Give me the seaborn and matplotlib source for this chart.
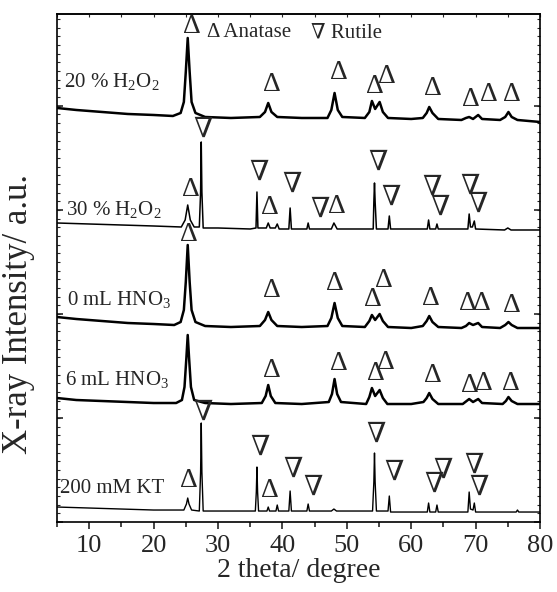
import matplotlib
matplotlib.use("Agg")
import matplotlib.pyplot as plt
import seaborn as sns
from matplotlib.ticker import MultipleLocator

# XRD traces: (2 theta, stacked intensity)
h2o2_20 = [(5, 414), (8, 412), (12, 410), (16, 408), (20, 407), (23, 406), (24.2, 409), (24.7, 420),
           (25.0, 450), (25.3, 484), (25.6, 450), (25.9, 420), (26.5, 409), (28, 405), (32, 404),
           (36.5, 405), (37.3, 410), (37.8, 419), (38.3, 410), (39.2, 405), (43, 404), (47.0, 404),
           (47.6, 412), (48.1, 429), (48.6, 412), (49.3, 405), (52.8, 404), (53.5, 410), (53.9, 421),
           (54.4, 413), (55.1, 420), (55.6, 410), (56.4, 404), (60, 403), (61.8, 404), (62.4, 409),
           (62.8, 415), (63.3, 409), (64.2, 403), (67.8, 402), (68.5, 404), (69.0, 405), (69.6, 403),
           (70.4, 407), (71.0, 403), (73.8, 402), (74.6, 405), (75.1, 410), (75.6, 405), (76.5, 402),
           (80, 400)]

h2o2_30 = [(5, 299), (10, 298), (15, 297), (20, 296), (24.3, 295), (24.9, 302), (25.3, 317), (25.7, 302),
           (26.3, 295), (27.1, 295), (27.3, 330), (27.4, 380), (27.5, 330), (27.7, 294), (30, 294),
           (35, 293), (35.9, 294), (36.05, 330), (36.2, 294), (37.5, 294), (37.8, 299), (38.1, 294),
           (38.9, 294), (39.2, 298), (39.5, 293), (41.0, 293), (41.2, 314), (41.4, 293), (43.8, 293),
           (44.0, 299), (44.2, 293), (47.6, 293), (48.0, 299), (48.5, 293), (54.1, 293), (54.2, 320),
           (54.3, 339), (54.4, 320), (54.6, 293), (56.4, 293), (56.6, 306), (56.8, 293), (62.5, 293),
           (62.7, 302), (62.9, 293), (63.8, 293), (64.0, 298), (64.2, 293), (68.8, 293), (69.0, 308),
           (69.2, 295), (69.5, 295), (69.8, 301), (70.0, 293), (74.5, 292), (75.0, 294), (75.5, 292),
           (80, 292)]

hno3_0 = [(5, 205), (8, 203), (12, 201), (16, 199), (20, 198), (23.2, 197), (24.2, 200), (24.7, 212),
          (25.0, 240), (25.3, 277), (25.6, 240), (25.9, 212), (26.5, 200), (28, 196), (32, 195),
          (36.5, 196), (37.3, 202), (37.8, 210), (38.3, 202), (39.2, 196), (43, 195), (47.0, 196),
          (47.6, 204), (48.1, 219), (48.6, 204), (49.3, 196), (52.8, 195), (53.5, 201), (53.9, 207),
          (54.4, 202), (55.1, 208), (55.6, 201), (56.4, 195), (60, 194), (61.8, 196), (62.4, 201),
          (62.8, 206), (63.3, 200), (64.2, 195), (67.8, 194), (68.5, 196), (69.0, 199), (69.6, 197),
          (70.4, 199), (71.0, 195), (73.8, 194), (74.6, 197), (75.1, 200), (75.6, 197), (76.5, 194),
          (80, 194)]

hno3_6 = [(5, 124), (8, 122), (12, 121), (16, 120), (20, 119), (23.5, 119), (24.4, 122), (24.8, 135),
          (25.1, 165), (25.3, 187), (25.5, 165), (25.8, 135), (26.3, 122), (28, 119), (32, 118),
          (36.8, 119), (37.4, 126), (37.8, 137), (38.2, 126), (38.9, 119), (43, 118), (47.2, 120),
          (47.7, 128), (48.1, 143), (48.5, 128), (49.1, 120), (53.0, 118), (53.5, 125), (53.9, 134),
          (54.4, 126), (55.1, 132), (55.6, 124), (56.3, 118), (60, 118), (61.9, 120), (62.4, 124),
          (62.8, 129), (63.3, 123), (64.2, 118), (68.0, 118), (68.6, 121), (69.0, 123), (69.6, 120),
          (70.4, 123), (71.0, 119), (74.2, 118), (74.7, 121), (75.1, 125), (75.6, 121), (76.5, 118),
          (80, 118)]

kt_200 = [(5, 15), (10, 14), (15, 13), (20, 12), (24.7, 12), (25.1, 18), (25.3, 24), (25.5, 18),
          (25.9, 12), (27.1, 11), (27.3, 50), (27.4, 99), (27.5, 50), (27.7, 11), (35.8, 11),
          (35.95, 30), (36.05, 55), (36.15, 30), (36.3, 11), (37.6, 11), (37.8, 15), (38.0, 11),
          (39.0, 11), (39.2, 17), (39.4, 11), (41.0, 11), (41.2, 31), (41.4, 11), (43.8, 11),
          (44.0, 18), (44.2, 11), (47.6, 11), (48.0, 13), (48.4, 11), (54.0, 11), (54.2, 40),
          (54.3, 69), (54.4, 40), (54.6, 11), (56.4, 11), (56.6, 26), (56.8, 10), (62.5, 10),
          (62.7, 19), (62.9, 10), (63.8, 10), (64.0, 17), (64.2, 10), (68.8, 10), (69.0, 30),
          (69.2, 13), (69.6, 12), (69.8, 19), (70.0, 10), (76.3, 10), (76.5, 12), (76.7, 10),
          (80, 10)]

traces = [h2o2_20, h2o2_30, hno3_0, hno3_6, kt_200]
line_widths = [1.8, 1.1, 1.8, 1.8, 1.0]

sample_names = ["20 % H$_\\mathregular{2}$O$_\\mathregular{2}$",
                "30 % H$_\\mathregular{2}$O$_\\mathregular{2}$",
                "0 mL HNO$_\\mathregular{3}$",
                "6 mL HNO$_\\mathregular{3}$",
                "200 mM KT"]
name_pos = [(6.1, 435), (6.4, 307), (6.55, 217), (6.25, 137), (5.5, 29)]

# phase marks (anatase = up triangle, rutile = down triangle)
anatase_marks = [(26.0, 495), (38.3, 437), (48.7, 449), (54.3, 435), (56.3, 445), (63.3, 433),
                 (69.2, 422), (72.0, 427), (75.6, 427),
                 (25.8, 332), (38.1, 314), (48.5, 315),
                 (25.5, 287), (38.4, 232), (48.2, 239), (54.1, 223), (55.7, 241), (63.0, 224),
                 (68.8, 219), (71.0, 219), (75.6, 217),
                 (38.4, 152), (48.7, 159), (54.5, 149), (56.1, 160), (63.3, 147), (69.1, 137),
                 (71.3, 139), (75.5, 139),
                 (25.5, 42), (38.0, 32)]
rutile_marks = [(27.7, 392), (36.4, 349), (41.5, 337), (45.9, 312), (54.8, 359), (56.9, 324),
                (63.2, 334), (64.4, 314), (69.1, 335), (70.3, 317),
                (27.7, 109), (36.6, 74), (41.7, 52), (44.7, 34), (54.6, 87), (57.3, 49),
                (63.5, 37), (65.0, 51), (69.7, 56), (70.6, 34)]

sns.set_style("ticks")
plt.rcParams["font.family"] = ["Liberation Serif", "DejaVu Serif"]
plt.rcParams["mathtext.fontset"] = "custom"
plt.rcParams["mathtext.rm"] = "Liberation Serif"

fig = plt.figure(figsize=(5.57, 5.92), dpi=100)
ax = fig.add_axes([0.1023, 0.1182, 0.8672, 0.8582])

for tr, lw in zip(traces, line_widths):
    xs = [p[0] for p in tr]
    ys = [p[1] for p in tr]
    sns.lineplot(x=xs, y=ys, sort=False, estimator=None, color="black", linewidth=lw, ax=ax)

for (x, y), name in zip(name_pos, sample_names):
    ax.text(x, y, name, fontsize=15, ha="left", va="baseline")

for x, y in anatase_marks:
    ax.text(x, y, "\u0394", fontsize=20, ha="center", va="center")
for x, y in rutile_marks:
    ax.text(x, y, "\u2207", fontsize=20, ha="center", va="center")

ax.text(28.3, 489, "\u0394 Anatase", fontsize=15, ha="left", va="center")
ax.text(44.5, 489, "\u2207 Rutile", fontsize=15, ha="left", va="center")

ax.set_xlim(5, 80)
ax.set_ylim(0, 508)
ax.xaxis.set_major_locator(MultipleLocator(10))
ax.xaxis.set_minor_locator(MultipleLocator(5))
ax.yaxis.set_major_locator(MultipleLocator(104))
ax.yaxis.set_minor_locator(MultipleLocator(8.67))
ax.tick_params(axis="x", which="major", direction="out", length=5, width=1.2, labelsize=19, pad=4)
ax.tick_params(axis="x", which="minor", direction="out", length=3.5, width=1.2)
ax.tick_params(axis="y", which="major", direction="in", length=4, width=1.2,
               left=True, right=True, labelleft=False)
ax.tick_params(axis="y", which="minor", direction="in", length=2, width=0.8,
               left=True, right=True)
top = ax.secondary_xaxis("top")
top.xaxis.set_major_locator(MultipleLocator(10))
top.xaxis.set_minor_locator(MultipleLocator(5))
top.tick_params(which="both", direction="in", length=2.5, width=0.8, labeltop=False)
top.spines["top"].set_linewidth(1.2)

for s in ax.spines.values():
    s.set_linewidth(1.2)
    s.set_color("black")

ax.set_xlabel("2 theta/ degree", fontsize=20, labelpad=1)
ax.set_ylabel("X-ray Intensity/ a.u.", fontsize=25)
ax.yaxis.set_label_coords(-0.045, 0.41)

fig.savefig("out.png", dpi=100)
